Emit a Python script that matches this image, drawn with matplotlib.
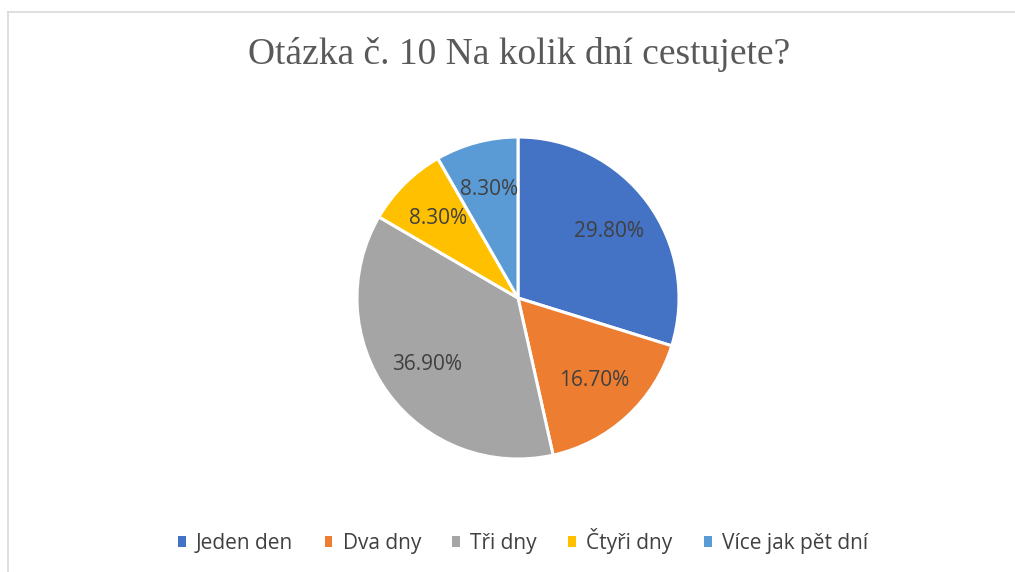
import matplotlib.pyplot as plt
from matplotlib.lines import Line2D

# data
kategorie = ["Jeden den", "Dva dny", "Tři dny", "Čtyři dny", "Více jak pět dní"]
hodnoty = [29.8, 16.7, 36.9, 8.3, 8.3]
barvy = ["#4472C4", "#ED7D31", "#A5A5A5", "#FFC000", "#5B9BD5"]
popisky = ["29.80%", "16.70%", "36.90%", "8.30%", "8.30%"]

fig = plt.figure(figsize=(10.15, 5.72), dpi=100)
fig.patch.set_facecolor("white")

# ramecek (jen horni a levy okraj je videt)
fig.add_artist(Line2D([8 / 1015, 1], [1 - 12 / 572, 1 - 12 / 572], color="#d9d9d9", lw=1.2))
fig.add_artist(Line2D([8 / 1015, 8 / 1015], [0, 1 - 12 / 572], color="#d9d9d9", lw=1.2))

fig.text(519 / 1015, 1 - 55 / 572, "Otázka č. 10 Na kolik dní cestujete?",
         family="Liberation Serif", fontsize=27, color="#595959",
         ha="center", va="center")

# pie: stred (518, 298), polomer ~161 px
r = 161
ax = fig.add_axes([(518 - r) / 1015, (572 - 298 - r) / 572, 2 * r / 1015, 2 * r / 572])
wedges, texts = ax.pie(hodnoty, colors=barvy, startangle=90, counterclock=False,
                       radius=1.0, labels=popisky, labeldistance=0.7,
                       wedgeprops=dict(edgecolor="white", linewidth=2.2),
                       textprops=dict(family="Open Sans", fontsize=15, color="#404040"))
for t in texts:
    t.set_ha("center")
    t.set_va("center")
ax.set_xlim(-1.0, 1.0)
ax.set_ylim(-1.0, 1.0)
ax.set_aspect("equal")

leg = fig.legend(wedges, kategorie, loc="center", bbox_to_anchor=(523 / 1015, 1 - 541 / 572),
                 ncol=5, frameon=False, handlelength=0.37, handleheight=0.37,
                 handletextpad=0.5, columnspacing=1.5,
                 prop=dict(family="Open Sans", size=15))
for t in leg.get_texts():
    t.set_color("#404040")
for h in leg.legend_handles:
    h.set_edgecolor("none")

fig.savefig("out.png", dpi=100, facecolor="white")
